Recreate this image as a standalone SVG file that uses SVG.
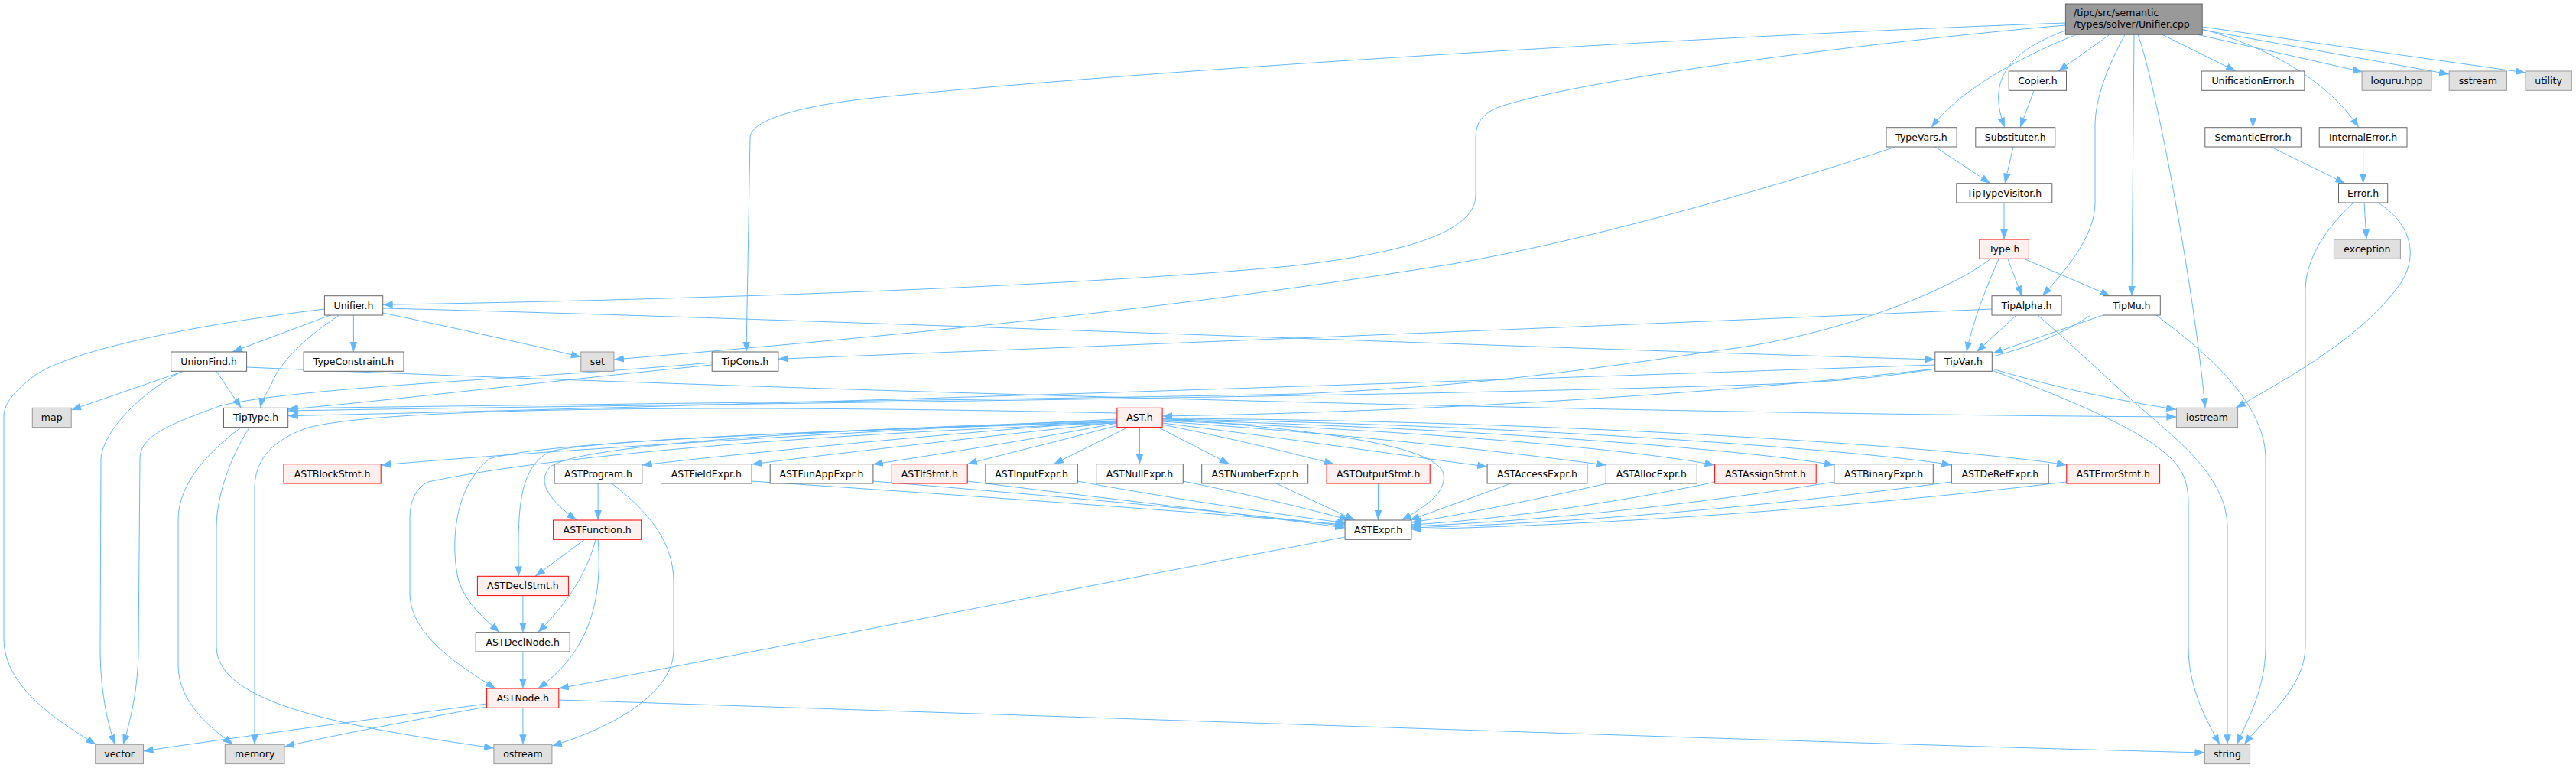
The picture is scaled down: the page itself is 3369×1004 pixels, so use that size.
<svg xmlns="http://www.w3.org/2000/svg" width="3369" height="1004" viewBox="0 0 3369 1004">
<defs>
<marker id="ah" markerWidth="13" markerHeight="10" refX="13" refY="4.8" orient="auto" markerUnits="userSpaceOnUse"><path d="M0,0 L13,4.8 L0,9.6 z" fill="#63b8ff"/></marker>
<style>
.n rect{fill:#ffffff;stroke:#666666;stroke-width:1}
.r rect{fill:#fff0f0;stroke:#ff0000;stroke-width:1}
.g rect{fill:#e0e0e0;stroke:#999999;stroke-width:1}
.m rect{fill:#999999;stroke:#666666;stroke-width:1}
text{font-family:"DejaVu Sans","Liberation Sans",sans-serif;font-size:12.5px;fill:#000000;text-anchor:middle}
.m text{text-anchor:start}
#edges path{fill:none;stroke:#63b8ff;stroke-width:1;marker-end:url(#ah)}
</style>
</defs>
<rect width="3369" height="1004" fill="#ffffff"/>
<g id="edges">
<path d="M2701,33 C2480,52 2080,100 1960,140 C1935,150 1930,165 1930,180 L1930,255 C1930,300 1850,330 1686,348 C1400,375 900,392 500.7,398.3"/>
<path d="M2701,30 C2300,44 1500,90 1124,130 C1030,142 981,160 981,180 L976,460"/>
<path d="M2716,45 C2640,75 2560,120 2526,166.7"/>
<path d="M2701,40 C2620,70 2600,110 2622,166.7"/>
<path d="M2759,45.3 L2692,93"/>
<path d="M2779,45.3 C2755,90 2740,130 2740,165 L2740,265 C2740,310 2700,355 2671,386.7"/>
<path d="M2791,45.3 L2788,386.7"/>
<path d="M2796,45.3 C2820,110 2870,380 2884,533.3"/>
<path d="M2828,45.3 L2924,93"/>
<path d="M2874,45.3 L3090,94"/>
<path d="M2880,39 L3203,97"/>
<path d="M2880,35 L3303,95"/>
<path d="M2880,38 C2960,60 3040,100 3085,166.7"/>
<path d="M2660,118.7 L2642,166.7"/>
<path d="M2531,192 L2603,239.7"/>
<path d="M2479,192 C2350,235 2100,310 1900,345 C1500,410 1100,445 802.9,470"/>
<path d="M2633,192 L2622,239.7"/>
<path d="M2621,265 L2621,313"/>
<path d="M2626,338.7 L2644,386.7"/>
<path d="M2648,338.7 L2760,386.7"/>
<path d="M2614,338.7 C2600,370 2580,420 2572,460"/>
<path d="M2603,338.7 C2550,380 2400,440 2248,458 C2000,495 1900,505 1700,515 C1200,525 600,530 376.7,534"/>
<path d="M2946.5,118.7 L2946.5,166.7"/>
<path d="M2970,192 L3067,239.7"/>
<path d="M3090.6,192 L3090.6,239.7"/>
<path d="M3092,265 L3095,313"/>
<path d="M3078,265 C3040,300 3015,340 3015,380 L3015,845 C3015,900 2960,940 2935,973.3"/>
<path d="M3110,265 C3150,290 3165,330 3140,370 C3090,440 3000,490 2924,533.3"/>
<path d="M2637,412 L2585,460"/>
<path d="M2750.5,412 L2606,462"/>
<path d="M2605,404 C2200,422 1500,450 1017.9,469.3"/>
<path d="M2665,412 C2710,450 2760,500 2810,542 C2860,585 2913,630 2913,690 L2913,973.3"/>
<path d="M2820,412 C2870,450 2963,520 2963,600 L2963,845 C2963,900 2940,940 2925,973.3"/>
<path d="M2734,412 C2650,470 2500,495 2320,502 C1800,520 900,528 376.7,537"/>
<path d="M2605,482 C2700,510 2780,525 2846,535.3"/>
<path d="M2605,484 C2700,520 2800,560 2840,600 C2860,620 2862,640 2862,660 L2862,845 C2862,900 2885,940 2903,973.3"/>
<path d="M2531,477 C2000,495 1000,530 376.7,543.7"/>
<path d="M2531,482 C2300,510 1900,538 1520,544"/>
<path d="M500.7,403 C1000,415 2000,455 2530.8,470"/>
<path d="M500.7,409 C600,430 700,452 759.8,466.7"/>
<path d="M432,412 L304,460"/>
<path d="M462.4,412 L462.4,460"/>
<path d="M444,412 C400,440 365,475 355,502 C348,515 342,525 340.5,533.3"/>
<path d="M424.4,404 C250,425 80,460 40,495 C15,515 5,530 5,545 L5,835 C5,900 80,945 125.4,973.3"/>
<path d="M240,485.3 L93,536"/>
<path d="M238,485.3 C190,510 135,560 132,600 L131,848 C131,900 140,945 150.5,973.3"/>
<path d="M283,485.3 L315.4,533.3"/>
<path d="M322.6,480 C900,505 2000,540 2846.4,545"/>
<path d="M931,477 C700,500 500,525 376.7,535"/>
<path d="M931,474 C700,495 400,505 290,530 C220,555 183,570 183,600 L181,848 C181,900 170,945 161,973.3"/>
<path d="M1461,540 C1000,530 500,530 400,560 C345,580 333,610 333,640 L333,973.3"/>
<path d="M315,559 C260,600 233,640 233,680 L233,870 C233,920 280,955 305,973.3"/>
<path d="M326,559 C300,600 283,650 283,690 L283,845 C283,920 450,950 646,978"/>
<path d="M1461,548 C1100,565 700,590 498.2,608"/>
<path d="M1461,550 C1200,570 950,595 839.8,608"/>
<path d="M1461,552 C1250,575 1050,598 983.1,607"/>
<path d="M1461,553 C1350,575 1200,598 1141.9,607"/>
<path d="M1462,556 C1380,578 1300,597 1265,606.7"/>
<path d="M1475,558.7 L1378,606.7"/>
<path d="M1490.5,558.7 L1490.5,606.7"/>
<path d="M1515,558.7 L1608,606.7"/>
<path d="M1520,555 C1620,575 1700,595 1745,606.7"/>
<path d="M1520,553 C1700,575 1850,598 1945.1,610"/>
<path d="M1520,551 C1800,570 2000,595 2100.3,608"/>
<path d="M1520,550 C1900,565 2150,590 2242.6,608"/>
<path d="M1520,549 C1950,560 2300,590 2398.9,608"/>
<path d="M1520,548 C2000,555 2450,590 2552.3,608"/>
<path d="M1520,547 C2100,550 2600,590 2702.8,608"/>
<path d="M1461,550 C1100,560 760,580 720,610 C700,630 720,655 754,680"/>
<path d="M1461,551 C1100,562 780,575 720,590 C680,610 676,660 678.5,753.3"/>
<path d="M1461,552 C1000,565 700,580 640,600 C590,640 590,720 600,760 C610,790 635,810 653.4,826.7"/>
<path d="M1461,553 C1000,570 700,600 560,630 C540,640 536,660 536,680 L536,775 C536,830 600,870 648,900"/>
<path d="M1520,547 C1700,560 1880,580 1888,620 C1892,645 1860,665 1833,680"/>
<path d="M983,629 C1300,650 1600,672 1759.1,686"/>
<path d="M1142,629 C1400,650 1650,673 1759.1,688"/>
<path d="M1265,629 C1450,652 1650,675 1759.1,690"/>
<path d="M1409,629 C1550,655 1700,676 1762,684"/>
<path d="M1547,629 C1650,650 1730,670 1765,680"/>
<path d="M1669,632 L1772,680"/>
<path d="M1802.5,632 L1802.5,680"/>
<path d="M1976,632 L1843.7,680"/>
<path d="M2101.8,632 C2000,655 1900,675 1845.9,683"/>
<path d="M2242.6,630.3 C2100,660 1950,680 1845.9,686"/>
<path d="M2398.9,630 C2200,662 2000,682 1845.9,688"/>
<path d="M2552.3,630 C2300,664 2050,684 1845.9,690"/>
<path d="M2702.8,630 C2400,666 2100,686 1845.9,692"/>
<path d="M1759.1,702 C1400,770 1000,850 730.8,900"/>
<path d="M782.1,632 L782.1,680"/>
<path d="M800,632 C850,670 881,710 881,760 L881,850 C881,910 790,955 721.9,975"/>
<path d="M764.5,705.3 L700,753.3"/>
<path d="M779,705.3 C765,760 730,800 703.6,826.7"/>
<path d="M782,705.3 C790,800 760,860 703.6,900"/>
<path d="M683.9,778.7 L683.9,826.7"/>
<path d="M683.9,852 L683.9,900"/>
<path d="M683.9,925.3 L683.9,973.3"/>
<path d="M636.6,920 C450,945 250,972 187.5,982"/>
<path d="M636.6,924 C520,945 420,965 372,976"/>
<path d="M730.8,915 C1500,940 2500,975 2883.4,984"/>
</g>
<g id="n_main" class="m"><rect x="2701.4" y="5" width="178.8" height="40.3"/><text x="2712" y="21.3">/tipc/src/semantic</text><text x="2712" y="36.3">/types/solver/Unifier.cpp</text></g>
<g id="n_copier" class="n"><rect x="2627.2" y="93" width="75.3" height="25.3"/><text x="2664.9" y="110">Copier.h</text></g>
<g id="n_unificationerror" class="n"><rect x="2879.2" y="93" width="134.7" height="25.3"/><text x="2946.5" y="110">UnificationError.h</text></g>
<g id="n_loguru" class="g"><rect x="3089.1" y="93" width="90.9" height="25.3"/><text x="3134.5" y="110">loguru.hpp</text></g>
<g id="n_sstream" class="g"><rect x="3203.2" y="93" width="75.2" height="25.3"/><text x="3240.8" y="110">sstream</text></g>
<g id="n_utility" class="g"><rect x="3303" y="93" width="60.3" height="25.3"/><text x="3333.1" y="110">utility</text></g>
<g id="n_typevars" class="n"><rect x="2467" y="166.7" width="92.1" height="25.3"/><text x="2513" y="183.7">TypeVars.h</text></g>
<g id="n_substituter" class="n"><rect x="2583.8" y="166.7" width="104" height="25.3"/><text x="2635.8" y="183.7">Substituter.h</text></g>
<g id="n_semanticerror" class="n"><rect x="2883.8" y="166.7" width="125.5" height="25.3"/><text x="2946.5" y="183.7">SemanticError.h</text></g>
<g id="n_internalerror" class="n"><rect x="3033.2" y="166.7" width="114.8" height="25.3"/><text x="3090.6" y="183.7">InternalError.h</text></g>
<g id="n_tiptypevisitor" class="n"><rect x="2558.8" y="239.7" width="125" height="25.3"/><text x="2621.3" y="256.7">TipTypeVisitor.h</text></g>
<g id="n_error" class="n"><rect x="3058.5" y="239.7" width="64.2" height="25.3"/><text x="3090.6" y="256.7">Error.h</text></g>
<g id="n_type" class="r"><rect x="2588.9" y="313" width="64.5" height="25.3"/><text x="2621.2" y="330">Type.h</text></g>
<g id="n_exception" class="g"><rect x="3052.4" y="313" width="87" height="25.3"/><text x="3095.9" y="330">exception</text></g>
<g id="n_unifier" class="n"><rect x="424.4" y="386.7" width="76.3" height="25.3"/><text x="462.5" y="403.7">Unifier.h</text></g>
<g id="n_tipalpha" class="n"><rect x="2605" y="386.7" width="91" height="25.3"/><text x="2650.5" y="403.7">TipAlpha.h</text></g>
<g id="n_tipmu" class="n"><rect x="2750.5" y="386.7" width="74.8" height="25.3"/><text x="2787.9" y="403.7">TipMu.h</text></g>
<g id="n_unionfind" class="n"><rect x="223.7" y="460" width="98.9" height="25.3"/><text x="273.1" y="477">UnionFind.h</text></g>
<g id="n_typeconstraint" class="n"><rect x="397.1" y="460" width="130.9" height="25.3"/><text x="462.5" y="477">TypeConstraint.h</text></g>
<g id="n_set" class="g"><rect x="759.8" y="460" width="43.1" height="25.3"/><text x="781.3" y="477">set</text></g>
<g id="n_tipcons" class="n"><rect x="931.2" y="460" width="86.7" height="25.3"/><text x="974.5" y="477">TipCons.h</text></g>
<g id="n_tipvar" class="n"><rect x="2530.8" y="460" width="74.5" height="25.3"/><text x="2568" y="477">TipVar.h</text></g>
<g id="n_map" class="g"><rect x="42.3" y="533.3" width="50.9" height="25.3"/><text x="67.7" y="550.3">map</text></g>
<g id="n_tiptype" class="n"><rect x="292.5" y="533.3" width="84.2" height="25.3"/><text x="334.6" y="550.3">TipType.h</text></g>
<g id="n_ast" class="r"><rect x="1460.9" y="533.3" width="59.2" height="25.3"/><text x="1490.5" y="550.3">AST.h</text></g>
<g id="n_iostream" class="g"><rect x="2846.4" y="533.3" width="80.2" height="25.3"/><text x="2886.5" y="550.3">iostream</text></g>
<g id="n_astblockstmt" class="r"><rect x="371" y="606.7" width="127.2" height="25.3"/><text x="434.6" y="623.7">ASTBlockStmt.h</text></g>
<g id="n_astprogram" class="n"><rect x="725.1" y="606.7" width="114.7" height="25.3"/><text x="782.5" y="623.7">ASTProgram.h</text></g>
<g id="n_astfieldexpr" class="n"><rect x="864.5" y="606.7" width="118.6" height="25.3"/><text x="923.8" y="623.7">ASTFieldExpr.h</text></g>
<g id="n_astfunappexpr" class="n"><rect x="1007.2" y="606.7" width="134.7" height="25.3"/><text x="1074.5" y="623.7">ASTFunAppExpr.h</text></g>
<g id="n_astifstmt" class="r"><rect x="1166.3" y="606.7" width="98.9" height="25.3"/><text x="1215.8" y="623.7">ASTIfStmt.h</text></g>
<g id="n_astinputexpr" class="n"><rect x="1288.9" y="606.7" width="120.4" height="25.3"/><text x="1349.1" y="623.7">ASTInputExpr.h</text></g>
<g id="n_astnullexpr" class="n"><rect x="1433.7" y="606.7" width="113.6" height="25.3"/><text x="1490.5" y="623.7">ASTNullExpr.h</text></g>
<g id="n_astnumberexpr" class="n"><rect x="1571.7" y="606.7" width="139" height="25.3"/><text x="1641.2" y="623.7">ASTNumberExpr.h</text></g>
<g id="n_astoutputstmt" class="r"><rect x="1735.1" y="606.7" width="135.1" height="25.3"/><text x="1802.7" y="623.7">ASTOutputStmt.h</text></g>
<g id="n_astaccessexpr" class="n"><rect x="1945.1" y="606.7" width="130.8" height="25.3"/><text x="2010.5" y="623.7">ASTAccessExpr.h</text></g>
<g id="n_astallocexpr" class="n"><rect x="2100.3" y="606.7" width="119" height="25.3"/><text x="2159.8" y="623.7">ASTAllocExpr.h</text></g>
<g id="n_astassignstmt" class="r"><rect x="2242.6" y="606.7" width="132.6" height="25.3"/><text x="2308.9" y="623.7">ASTAssignStmt.h</text></g>
<g id="n_astbinaryexpr" class="n"><rect x="2398.9" y="606.7" width="129.4" height="25.3"/><text x="2463.6" y="623.7">ASTBinaryExpr.h</text></g>
<g id="n_astderefexpr" class="n"><rect x="2552.3" y="606.7" width="126.9" height="25.3"/><text x="2615.8" y="623.7">ASTDeRefExpr.h</text></g>
<g id="n_asterrorstmt" class="r"><rect x="2702.8" y="606.7" width="121.8" height="25.3"/><text x="2763.7" y="623.7">ASTErrorStmt.h</text></g>
<g id="n_astfunction" class="r"><rect x="723.6" y="680" width="115.1" height="25.3"/><text x="781.2" y="697">ASTFunction.h</text></g>
<g id="n_astexpr" class="n"><rect x="1759.1" y="680" width="86.8" height="25.3"/><text x="1802.5" y="697">ASTExpr.h</text></g>
<g id="n_astdeclstmt" class="r"><rect x="624.4" y="753.3" width="119" height="25.3"/><text x="683.9" y="770.3">ASTDeclStmt.h</text></g>
<g id="n_astdeclnode" class="n"><rect x="622.2" y="826.7" width="123" height="25.3"/><text x="683.7" y="843.7">ASTDeclNode.h</text></g>
<g id="n_astnode" class="r"><rect x="636.6" y="900" width="94.2" height="25.3"/><text x="683.7" y="917">ASTNode.h</text></g>
<g id="n_vector" class="g"><rect x="124.7" y="973.3" width="62.8" height="25.3"/><text x="156.1" y="990.3">vector</text></g>
<g id="n_memory" class="g"><rect x="294.3" y="973.3" width="77.7" height="25.3"/><text x="333.2" y="990.3">memory</text></g>
<g id="n_ostream" class="g"><rect x="645.9" y="973.3" width="76" height="25.3"/><text x="683.9" y="990.3">ostream</text></g>
<g id="n_string" class="g"><rect x="2883.4" y="973.3" width="59.2" height="25.3"/><text x="2913" y="990.3">string</text></g>
</svg>
